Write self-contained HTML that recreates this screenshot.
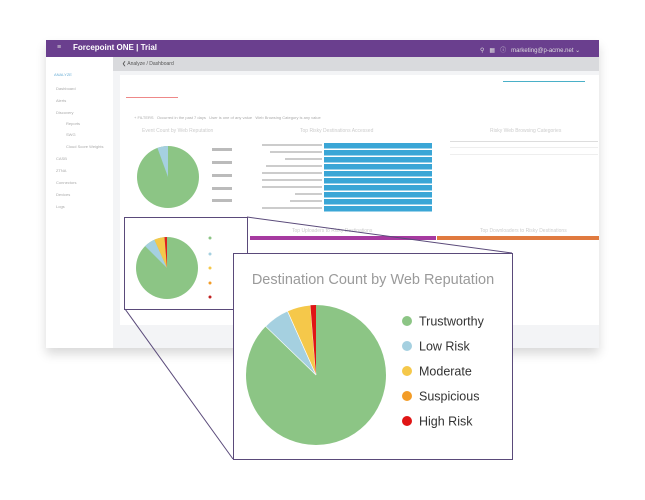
<!DOCTYPE html>
<html><head><meta charset="utf-8"><style>
body{margin:0;width:645px;height:500px;background:#fff;position:relative;overflow:hidden;font-family:"Liberation Sans",sans-serif}
.a{position:absolute}
.t{position:absolute;font-size:4px;color:#aaa;white-space:nowrap}
</style></head><body>
<div class="a" style="left:46px;top:40px;width:553px;height:308px;background:#f3f4f6;box-shadow:0 6px 10px rgba(0,0,0,0.15)"></div>
<div class="a" style="left:46px;top:40px;width:553px;height:17px;background:#6a3f8e"></div>
<div class="t" style="left:57px;top:44px;color:#ddd;font-size:7px">≡</div>
<div class="t" style="left:73px;top:43px;color:#fff;font-size:8px;font-weight:bold">Forcepoint ONE | Trial</div>
<div class="t" style="left:480px;top:45px;color:#ddd;font-size:6px">⚲ &nbsp; ▦ &nbsp; ⓘ &nbsp; marketing@p-acme.net ⌄</div>
<div class="a" style="left:46px;top:57px;width:67px;height:291px;background:#fff"></div>
<div class="t" style="left:54px;top:72px;color:#6aaed6">ANALYZE</div>
<div class="t" style="left:56px;top:86px">Dashboard</div>
<div class="t" style="left:56px;top:98px">Alerts</div>
<div class="t" style="left:56px;top:110px">Discovery</div>
<div class="t" style="left:66px;top:121px">Reports</div>
<div class="t" style="left:66px;top:132px">SWG</div>
<div class="t" style="left:66px;top:144px">Cloud Score Weights</div>
<div class="t" style="left:56px;top:156px">CASB</div>
<div class="t" style="left:56px;top:168px">ZTNA</div>
<div class="t" style="left:56px;top:180px">Connectors</div>
<div class="t" style="left:56px;top:192px">Devices</div>
<div class="t" style="left:56px;top:204px">Logs</div>
<div class="a" style="left:113px;top:57px;width:486px;height:14px;background:#d9dadd"></div>
<div class="t" style="left:122px;top:61px;color:#555;font-size:5px">❮ Analyze / Dashboard</div>
<div class="a" style="left:120px;top:75px;width:479px;height:250px;background:#fff"></div>
<div class="a" style="left:126px;top:97px;width:52px;height:1px;background:#e88"></div>
<div class="a" style="left:503px;top:81px;width:82px;height:1px;background:#4ab0c8"></div>
<div class="t" style="left:134px;top:115px">+ FILTERS &nbsp; Occurred in the past 7 days &nbsp; User is one of any value &nbsp; Web Browsing Category is any value</div>
<div class="t" style="left:142px;top:128px;color:#ccc;font-size:5px">Event Count by Web Reputation</div>
<div class="t" style="left:300px;top:128px;color:#ccc;font-size:5px">Top Risky Destinations Accessed</div>
<div class="t" style="left:490px;top:128px;color:#ccc;font-size:5px">Risky Web Browsing Categories</div>
<div class="t" style="left:292px;top:228px;color:#ccc;font-size:5px">Top Uploaders to Risky Destinations</div>
<div class="t" style="left:480px;top:228px;color:#ccc;font-size:5px">Top Downloaders to Risky Destinations</div>
<div class="a" style="left:250px;top:236px;width:186px;height:4px;background:#a63aa0"></div>
<div class="a" style="left:437px;top:236px;width:162px;height:4px;background:#e07a3f"></div>
<div class="a" style="left:450px;top:141px;width:148px;height:1px;background:#ddd"></div>
<div class="a" style="left:450px;top:147px;width:148px;height:1px;background:#eee"></div>
<div class="a" style="left:450px;top:154px;width:148px;height:1px;background:#eee"></div>
<svg class="a" style="left:0;top:0" width="645" height="500">
<g fill="#3aa6d6">
<rect x="324" y="143" width="108" height="5.5"/><rect x="324" y="150" width="108" height="5.5"/><rect x="324" y="157" width="108" height="5.5"/><rect x="324" y="164" width="108" height="5.5"/><rect x="324" y="171" width="108" height="5.5"/><rect x="324" y="178" width="108" height="5.5"/><rect x="324" y="185" width="108" height="5.5"/><rect x="324" y="192" width="108" height="5.5"/><rect x="324" y="199" width="108" height="5.5"/><rect x="324" y="206" width="108" height="5.5"/>
</g>
<g fill="#ccc"><rect x="262" y="144" width="60" height="2"/><rect x="270" y="151" width="52" height="2"/><rect x="285" y="158" width="37" height="2"/><rect x="266" y="165" width="56" height="2"/><rect x="262" y="172" width="60" height="2"/><rect x="262" y="179" width="60" height="2"/><rect x="262" y="186" width="60" height="2"/><rect x="295" y="193" width="27" height="2"/><rect x="290" y="200" width="32" height="2"/><rect x="262" y="207" width="60" height="2"/></g>
<!-- top pie -->
<circle cx="168" cy="177" r="31" fill="#8cc585"/>
<path d="M168 177 L168 146 A31 31 0 0 0 157.4 147.9 Z" fill="#a5d0e0"/>
<g fill="#bbb"><rect x="212" y="148" width="20" height="3"/><rect x="212" y="161" width="20" height="3"/><rect x="212" y="174" width="20" height="3"/><rect x="212" y="187" width="20" height="3"/><rect x="212" y="199" width="20" height="3"/></g>
<!-- small pie -->
<circle cx="167" cy="268" r="31" fill="#8cc585"/>
<path d="M167 268 L145.1 246.1 A31 31 0 0 1 154.4 239.7 Z" fill="#a5d0e0"/>
<path d="M167 268 L154.4 239.7 A31 31 0 0 1 164.5 237.1 Z" fill="#f5c84a"/>
<path d="M167 268 L164.5 237.1 A31 31 0 0 1 167 237 Z" fill="#e02020"/>
<g><circle cx="210" cy="238" r="1.5" fill="#8cc585"/><circle cx="210" cy="254" r="1.5" fill="#a5d0e0"/><circle cx="210" cy="268" r="1.5" fill="#f5c84a"/><circle cx="210" cy="283" r="1.5" fill="#f39c27"/><circle cx="210" cy="297" r="1.5" fill="#c02020"/></g>
<rect x="124.5" y="217.5" width="123" height="92" fill="none" stroke="#5a4a7a" stroke-width="1"/>
<line x1="247" y1="217" x2="512" y2="253" stroke="#5a4a7a" stroke-width="1"/>
<line x1="125" y1="309" x2="233" y2="459" stroke="#5a4a7a" stroke-width="1"/>
<rect x="233.5" y="253.5" width="279" height="206" fill="#fff" stroke="#5a4a7a" stroke-width="1"/>
<text x="373" y="284" text-anchor="middle" font-family="Liberation Sans" font-size="14.5" fill="#9a9a9a">Destination Count by Web Reputation</text>
<circle cx="316" cy="375" r="70" fill="#8cc585"/>
<path d="M316 375 L265.6 326.4 A70 70 0 0 1 287.5 311.1 Z" fill="#a5d0e0" stroke="#fff" stroke-width="0.6"/>
<path d="M316 375 L287.5 311.1 A70 70 0 0 1 310.4 305.2 Z" fill="#f5c84a" stroke="#fff" stroke-width="0.6"/>
<path d="M316 375 L310.4 305.2 A70 70 0 0 1 316 305 Z" fill="#e01515"/>
<circle cx="407" cy="321" r="5" fill="#8cc585"/><circle cx="407" cy="346" r="5" fill="#a5d0e0"/><circle cx="407" cy="371" r="5" fill="#f5c84a"/><circle cx="407" cy="396" r="5" fill="#f39c27"/><circle cx="407" cy="421" r="5" fill="#e01515"/>
<g font-family="Liberation Sans" font-size="12.5" fill="#333">
<text x="419" y="325.5">Trustworthy</text><text x="419" y="350.5">Low Risk</text><text x="419" y="375.5">Moderate</text><text x="419" y="400.5">Suspicious</text><text x="419" y="425.5">High Risk</text></g>
</svg>
</body></html>
